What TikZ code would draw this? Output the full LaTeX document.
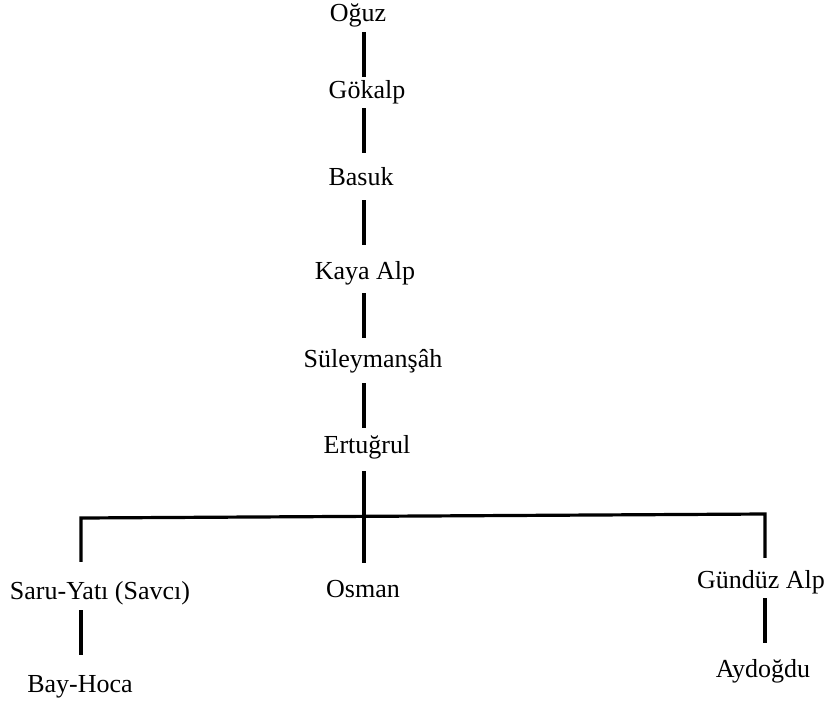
\documentclass[tikz,border=0pt]{standalone}
\usepackage{fontspec}
\setmainfont{Liberation Serif}
\begin{document}
\begin{tikzpicture}[x=1pt,y=-1pt,
    person/.style={inner sep=0pt, text height=16pt, text depth=6pt, anchor=base,
      font=\fontsize{26}{30}\selectfont},
    link/.style={line width=3.2pt}]
    \useasboundingbox (0,0) rectangle (837,707);
    \coordinate (col) at (364,0);
    \coordinate (barL) at (81,518);
    \coordinate (barR) at (765,514);
    % main line
    \node[person] (oguz) at (358,21) {Oğuz};
    \node[person] (gokalp) at (367,98) {Gökalp};
    \node[person] (basuk) at (361,185) {Basuk};
    \node[person] (kaya) at (365,279) {Kaya Alp};
    \node[person] (suley) at (373,367) {Süleymanşâh};
    \node[person] (ertugrul) at (367,453) {Ertuğrul};
    % sons
    \node[person] (saru) at (100,599) {Saru-Yatı (Savcı)};
    \node[person] (osman) at (363,597) {Osman};
    \node[person] (gunduz) at (761,588) {Gündüz Alp};
    \node[person] (bay) at (80,692) {Bay-Hoca};
    \node[person] (aydogdu) at (763,677) {Aydoğdu};
    \draw[link, shorten <=5pt, shorten >=5pt] (oguz.south -| col) -- (gokalp.north -| col);
    \draw[link, shorten <=4pt, shorten >=16pt] (gokalp.south -| col) -- (basuk.north -| col);
    \draw[link, shorten <=9pt, shorten >=18pt] (basuk.south -| col) -- (kaya.north -| col);
    \draw[link, shorten <=8pt, shorten >=13pt] (kaya.south -| col) -- (suley.north -| col);
    \draw[link, shorten <=10pt, shorten >=9pt] (suley.south -| col) -- (ertugrul.north -| col);
    \draw[link, shorten <=12pt, shorten >=18pt] (ertugrul.south -| col) -- (osman.north -| col);
    \draw[link, shorten <=21pt, shorten >=14pt] (barL |- saru.north) -- (barL) -- (barR) -- (barR |- gunduz.north);
    \draw[link, shorten <=5pt, shorten >=21pt] (saru.south -| barL) -- (bay.north -| barL);
    \draw[link, shorten <=4pt, shorten >=18pt] (gunduz.south -| barR) -- (aydogdu.north -| barR);
\end{tikzpicture}
\end{document}
